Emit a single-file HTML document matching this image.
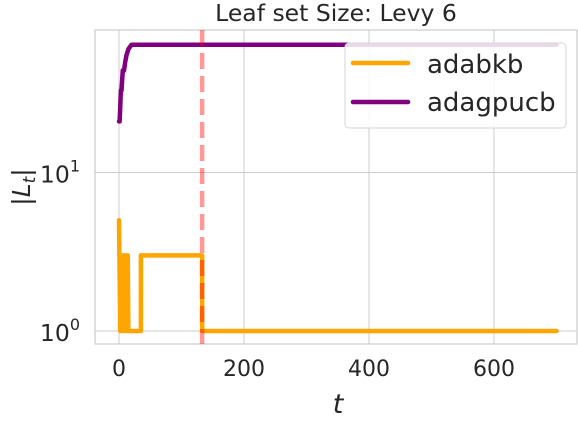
<!DOCTYPE html>
<html><head><meta charset="utf-8"><style>
body{margin:0;background:#fff}
text{font-family:"DejaVu Sans","Liberation Sans",sans-serif;fill:#262626}
</style></head><body>
<svg id="chart" width="578" height="418" xmlns="http://www.w3.org/2000/svg"></svg>
<script>
const orangeT=[0,2,5,6,8,9,11,12,14,15,35,35,133,133,700];
const orangeV=[5,1,3,1,3,1,3,1,3,1,1,3,3,1,1];
const purpleT=[0,1,2,3,4,5,6,8,10,12,15,20,700];
const purpleV=[21,21,26,33,33,38,44,44,50,55,60,64,64];
const xTicks=[0,200,400,600];
const yTicks=[1,10];
const vLineT=133;
const NS="http://www.w3.org/2000/svg";
const svg=document.getElementById('chart');
const L=95,R=577,T=30,B=344;
const x=t=>119+t*0.625;
const y=v=>331-Math.log10(v)*158.5;
function el(tag,attrs,parent){const e=document.createElementNS(NS,tag);for(const k in attrs)e.setAttribute(k,attrs[k]);(parent||svg).appendChild(e);return e;}
xTicks.forEach(t=>{
 const g=el('line',{x1:x(t),x2:x(t),y1:T,y2:B,stroke:'#cccccc','stroke-width':1});
 
 
 const lb=el('text',{x:x(t),y:376,'text-anchor':'middle','font-size':22});
 lb.textContent=t;
 
 
});
yTicks.forEach(v=>{
 const g=el('line',{x1:L,x2:R,y1:y(v),y2:y(v),stroke:'#cccccc','stroke-width':1});
 
 
 const lb=el('text',{x:80,y:y(v)+10,'text-anchor':'end','font-size':23.5});
 lb.innerHTML='10<tspan dy="-11" font-size="16">'+Math.round(Math.log10(v))+'</tspan>';
 
 
});
const fr=el('rect',{x:L,y:T,width:R-L,height:B-T,fill:'none',stroke:'#cccccc','stroke-width':1.2});


function series(ts,vs,color,name){
 const p=el('polyline',{points:ts.map((t,i)=>x(t)+','+y(vs[i])).join(' '),fill:'none',stroke:color,'stroke-width':4.5,'stroke-linejoin':'round','stroke-linecap':'round'});
 
 
}
series(orangeT,orangeV,'#ffa500','series-adabkb');
series(purpleT,purpleV,'#800080','series-adagpucb');
const vl=el('line',{x1:x(vLineT),x2:x(vLineT),y1:T,y2:B,stroke:'#ff0000','stroke-opacity':0.4,'stroke-width':4.5,'stroke-dasharray':'16,7'});


</script>
<svg style="position:absolute;left:0;top:0" width="578" height="418" xmlns="http://www.w3.org/2000/svg">
<text x="336" y="21" text-anchor="middle" font-size="23.5">Leaf set Size: Levy 6</text>
<text x="338" y="413" text-anchor="middle" font-size="27" font-style="italic">t</text>
<text transform="translate(30,187) rotate(-90)" text-anchor="middle" font-size="25">|<tspan font-style="italic">L</tspan><tspan font-style="italic" font-size="17" dy="5">t</tspan><tspan dy="-5">|</tspan></text>
<g>
<rect x="345" y="43" width="221" height="85" rx="4" fill="#fff" fill-opacity="0.85" stroke="#d6d6d6"/>
<line x1="353" x2="408" y1="63" y2="63" stroke="#ffa500" stroke-width="4.5" stroke-linecap="round"/>
<text x="427" y="73" font-size="26">adabkb</text>
<line x1="353" x2="408" y1="102" y2="102" stroke="#800080" stroke-width="4.5" stroke-linecap="round"/>
<text x="427" y="111" font-size="26">adagpucb</text>
</g>
</svg>
</body></html>
